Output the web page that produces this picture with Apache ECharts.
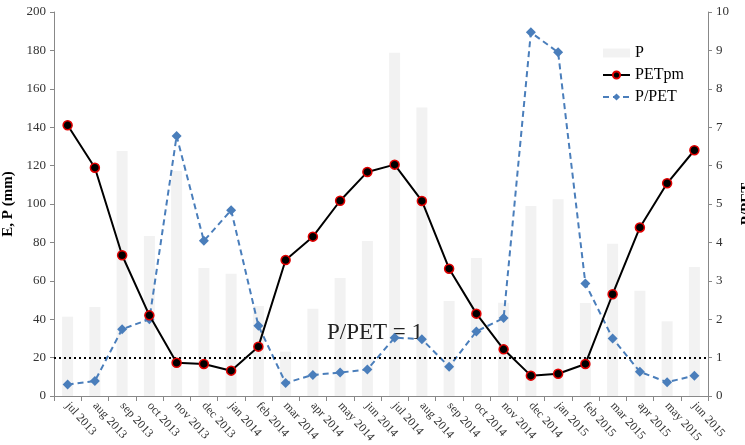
<!DOCTYPE html>
<html>
<head>
<meta charset="utf-8">
<script src="https://cdn.jsdelivr.net/npm/echarts@6/dist/echarts.min.js"></script>
<style>
html, body { margin: 0; padding: 0; background: #fff; }
#chart { width: 745px; height: 445px; }
</style>
</head>
<body>
<div id="chart"></div>
<script>
var months = ['jul 2013', 'aug 2013', 'sep 2013', 'oct 2013', 'nov 2013', 'dec 2013',
    'jan 2014', 'feb 2014', 'mar 2014', 'apr 2014', 'may 2014', 'jun 2014',
    'jul 2014', 'aug 2014', 'sep 2014', 'oct 2014', 'nov 2014', 'dec 2014',
    'jan 2015', 'feb 2015', 'mar 2015', 'apr 2015', 'may 2015', 'jun 2015'];
var rainP = [41.3, 46.4, 127.6, 83.3, 117.2, 66.7, 63.7, 46.9, 23.1, 45.5, 61.5, 80.7,
    178.8, 150.2, 49.5, 71.9, 48.6, 99, 102.5, 48.4, 79.3, 54.8, 38.9, 67.2];
var petPm = [141, 118.9, 73.3, 42, 17.3, 16.7, 13.2, 25.7, 70.8, 83, 101.7, 116.7,
    120.5, 101.6, 66.3, 42.9, 24.3, 10.6, 11.6, 16.7, 53, 87.8, 110.8, 128];
var ratio = [0.30, 0.39, 1.74, 2.0, 6.77, 4.04, 4.84, 1.83, 0.34, 0.55, 0.61, 0.69,
    1.52, 1.48, 0.76, 1.68, 2.03, 9.47, 8.95, 2.93, 1.50, 0.63, 0.36, 0.53];
var threshold = 1;

var serif = 'Liberation Serif';
var myChart = echarts.init(document.getElementById('chart'));
var option = {
    animation: false,
    textStyle: { fontFamily: serif },
    grid: { left: 54, right: 37, top: 12, bottom: 49, containLabel: false, outerBoundsMode: 'none' },
    legend: {
        orient: 'vertical',
        left: 597,
        top: 40,
        itemGap: 6,
        itemWidth: 27,
        itemHeight: 9,
        textStyle: { fontFamily: serif, fontSize: 16, color: '#000' },
        data: [
            { name: 'P', icon: 'rect', itemStyle: { color: '#f2f2f2' } },
            { name: 'PETpm' },
            { name: 'P/PET' }
        ]
    },
    graphic: [{
        type: 'text',
        left: 327,
        top: 321,
        z: 3,
        style: { text: 'P/PET = 1', font: '23px "Liberation Serif"', fill: '#222' }
    }],
    xAxis: {
        type: 'category',
        data: months,
        axisLine: { lineStyle: { color: '#888' } },
        axisTick: { show: true, length: 5, lineStyle: { color: '#888' } },
        axisLabel: { rotate: -48, fontSize: 12, color: '#333', fontFamily: serif, margin: 8 }
    },
    yAxis: [{
        type: 'value',
        min: 0,
        max: 200,
        interval: 20,
        name: 'E, P (mm)',
        nameLocation: 'middle',
        nameGap: 34,
        nameTextStyle: { fontFamily: serif, fontSize: 15, fontWeight: 'bold', color: '#000' },
        axisLine: { show: true, lineStyle: { color: '#888' } },
        axisTick: { show: true, length: 4, lineStyle: { color: '#888' } },
        axisLabel: { fontSize: 13, color: '#333', fontFamily: serif, margin: 8 },
        splitLine: { show: false }
    }, {
        type: 'value',
        min: 0,
        max: 10,
        interval: 1,
        name: 'P/PET',
        nameLocation: 'middle',
        nameGap: 30,
        nameRotate: 90,
        nameTextStyle: { fontFamily: serif, fontSize: 15, fontWeight: 'bold', color: '#000' },
        axisLine: { show: true, lineStyle: { color: '#888' } },
        axisTick: { show: true, length: 4, lineStyle: { color: '#888' } },
        axisLabel: { fontSize: 13, color: '#333', fontFamily: serif, margin: 8 },
        splitLine: { show: false }
    }],
    series: [
        {
            name: 'P',
            type: 'bar',
            yAxisIndex: 0,
            barWidth: 11,
            itemStyle: { color: '#f2f2f2' },
            data: rainP
        },
        {
            name: 'PETpm',
            type: 'line',
            yAxisIndex: 0,
            symbol: 'circle',
            symbolSize: 9,
            z: 5,
            lineStyle: { color: '#000', width: 2 },
            itemStyle: { color: '#000', borderColor: '#e00000', borderWidth: 1.5 },
            data: petPm
        },
        {
            name: 'P/PET',
            type: 'line',
            yAxisIndex: 1,
            symbol: 'diamond',
            symbolSize: 10,
            z: 4,
            lineStyle: { color: '#4a7ebb', width: 2, type: [6, 4] },
            itemStyle: { color: '#4a7ebb' },
            markLine: {
                silent: true,
                symbol: 'none',
                label: { show: false },
                lineStyle: { color: '#000', width: 2, type: [2, 3] },
                data: [{ yAxis: threshold }]
            },
            data: ratio
        }
    ]
};
myChart.setOption(option);
</script>
</body>
</html>
